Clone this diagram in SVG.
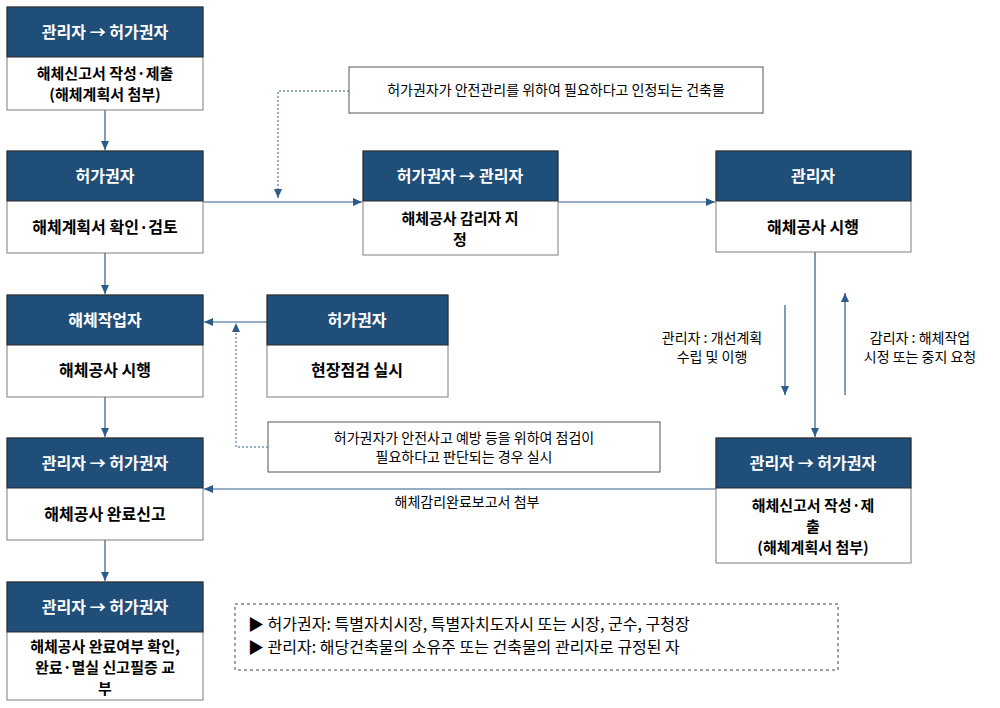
<svg xmlns="http://www.w3.org/2000/svg" width="1000" height="708" viewBox="0 0 1000 708">
<defs>
<marker id="a" markerWidth="10" markerHeight="10" refX="9" refY="5" orient="auto" markerUnits="userSpaceOnUse"><path d="M0,1 L9,5 L0,9 Z" fill="#2E5C8A"/></marker>
<style>
.h{fill:#1F4E79;stroke:#2a2a2a;stroke-width:1}
.b{fill:#fff;stroke:#7f7f7f;stroke-width:1}
.ht{fill:#fff;font:bold 16px "Noto Sans CJK KR","Noto Sans",sans-serif;text-anchor:middle}
.bt{fill:#000;font:bold 16px "Noto Sans CJK KR","Noto Sans",sans-serif;text-anchor:middle}
.bs{fill:#000;font:bold 15px "Noto Sans CJK KR","Noto Sans",sans-serif;text-anchor:middle}
.n{fill:#fff;stroke:#555;stroke-width:1}
.nt{fill:#000;font:14px "Noto Sans CJK KR","Noto Sans",sans-serif;text-anchor:middle}
.l{stroke:#2E5C8A;stroke-width:1.2;fill:none}
.d{stroke:#2E5C8A;stroke-width:1;fill:none;stroke-dasharray:2,2}
</style>
</defs>
<g id="connectors">
<line class="l" x1="105" y1="110" x2="105" y2="150" marker-end="url(#a)"/>
<line class="l" x1="203" y1="202" x2="362" y2="202" marker-end="url(#a)"/>
<line class="l" x1="558" y1="202" x2="715" y2="202" marker-end="url(#a)"/>
<line class="l" x1="105" y1="253" x2="105" y2="294" marker-end="url(#a)"/>
<line class="l" x1="105" y1="397" x2="105" y2="437" marker-end="url(#a)"/>
<line class="l" x1="105" y1="540" x2="105" y2="581" marker-end="url(#a)"/>
<line class="l" x1="815" y1="252" x2="815" y2="437" marker-end="url(#a)"/>
<line class="l" x1="785" y1="305" x2="785" y2="395" marker-end="url(#a)"/>
<line class="l" x1="845" y1="395" x2="845" y2="293" marker-end="url(#a)"/>
<line class="l" x1="716" y1="489" x2="204" y2="489" marker-end="url(#a)"/>
<line class="l" x1="267" y1="322" x2="204" y2="322" marker-end="url(#a)"/>
<polyline class="d" points="349,91 278,91 278,198" marker-end="url(#a)"/>
<polyline class="d" points="268,447 236,447 236,323" marker-end="url(#a)"/>
<text class="nt" x="712" y="343">관리자 : 개선계획</text>
<text class="nt" x="712" y="362">수립 및 이행</text>
<text class="nt" x="920" y="343">감리자 : 해체작업</text>
<text class="nt" x="920" y="362">시정 또는 중지 요청</text>
<text class="nt" x="467" y="507">해체감리완료보고서 첨부</text>
</g>
<g id="n1"><rect class="b" x="7" y="7" width="196" height="103"/><rect class="h" x="7" y="7" width="196" height="50"/><text class="ht" x="105" y="38">관리자 → 허가권자</text><text class="bs" x="105" y="79">해체신고서 작성·제출</text><text class="bs" x="105" y="100">(해체계획서 첨부)</text></g>
<g id="n2"><rect class="b" x="7" y="151" width="196" height="102"/><rect class="h" x="7" y="151" width="196" height="50"/><text class="ht" x="105" y="182">허가권자</text><text class="bt" x="105" y="233">해체계획서 확인·검토</text></g>
<g id="n3"><rect class="b" x="363" y="151" width="195" height="104"/><rect class="h" x="363" y="151" width="195" height="50"/><text class="ht" x="460" y="182">허가권자 → 관리자</text><text class="bs" x="460" y="224">해체공사 감리자 지</text><text class="bs" x="460" y="245">정</text></g>
<g id="n4"><rect class="b" x="716" y="151" width="195" height="101"/><rect class="h" x="716" y="151" width="195" height="50"/><text class="ht" x="813" y="182">관리자</text><text class="bt" x="813" y="233">해체공사 시행</text></g>
<g id="n5"><rect class="b" x="7" y="295" width="196" height="102"/><rect class="h" x="7" y="295" width="196" height="50"/><text class="ht" x="105" y="326">해체작업자</text><text class="bt" x="105" y="376">해체공사 시행</text></g>
<g id="n6"><rect class="b" x="267" y="295" width="181" height="102"/><rect class="h" x="267" y="295" width="181" height="50"/><text class="ht" x="357" y="326">허가권자</text><text class="bt" x="357" y="376">현장점검 실시</text></g>
<g id="n7"><rect class="b" x="7" y="438" width="196" height="102"/><rect class="h" x="7" y="438" width="196" height="50"/><text class="ht" x="105" y="469">관리자 → 허가권자</text><text class="bt" x="105" y="520">해체공사 완료신고</text></g>
<g id="n8"><rect class="b" x="716" y="438" width="195" height="125"/><rect class="h" x="716" y="438" width="195" height="50"/><text class="ht" x="813" y="469">관리자 → 허가권자</text><text class="bs" x="813" y="511">해체신고서 작성·제</text><text class="bs" x="813" y="532">출</text><text class="bs" x="813" y="553">(해체계획서 첨부)</text></g>
<g id="n9"><rect class="b" x="7" y="582" width="196" height="118"/><rect class="h" x="7" y="582" width="196" height="50"/><text class="ht" x="105" y="613">관리자 → 허가권자</text><text class="bs" x="105" y="652">해체공사 완료여부 확인,</text><text class="bs" x="105" y="673">완료·멸실 신고필증 교</text><text class="bs" x="105" y="694">부</text></g>
<g id="note1"><rect class="n" x="349" y="67" width="414" height="46"/><text class="nt" x="556" y="95">허가권자가 안전관리를 위하여 필요하다고 인정되는 건축물</text></g>
<g id="note2"><rect class="n" x="268" y="422" width="392" height="50"/><text class="nt" x="464" y="443">허가권자가 안전사고 예방 등을 위하여 점검이</text><text class="nt" x="464" y="462">필요하다고 판단되는 경우 실시</text></g>
<g id="legend"><rect x="235" y="604" width="603" height="66" fill="#fff" stroke="#444" stroke-dasharray="3,3"/>
<text x="248" y="630" style="font:16px 'Noto Sans CJK KR','Noto Sans',sans-serif">▶ 허가권자: 특별자치시장, 특별자치도자시 또는 시장, 군수, 구청장</text>
<text x="248" y="653" style="font:16px 'Noto Sans CJK KR','Noto Sans',sans-serif">▶ 관리자: 해당건축물의 소유주 또는 건축물의 관리자로 규정된 자</text></g>
</svg>
